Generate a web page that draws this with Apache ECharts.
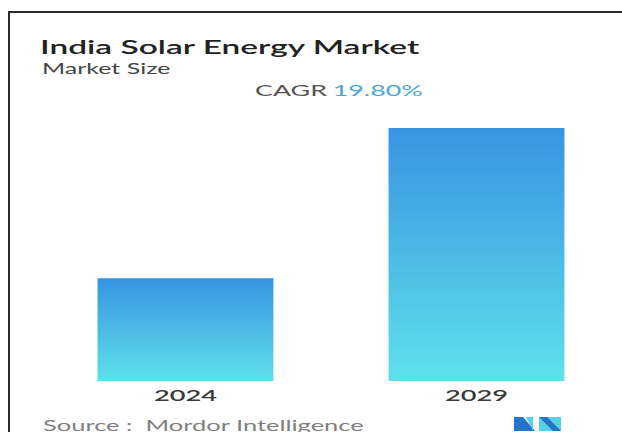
<!DOCTYPE html>
<html>
<head>
<meta charset="utf-8">
<script src="https://cdn.jsdelivr.net/npm/echarts@6/dist/echarts.min.js"></script>
<style>
  html, body { margin: 0; padding: 0; background: #ffffff; overflow: hidden; }
  #wrap { width: 622px; height: 432px; overflow: hidden; position: relative; }
  /* the card is laid out narrow and widened horizontally */
  #chart { width: 366px; height: 432px; transform: scaleX(1.6995); transform-origin: 0 0; }
</style>
</head>
<body>
<div id="wrap"><div id="chart"></div></div>
<script>
// Market size (GW) by year
const categories = ['2024', '2029'];
const marketSize = [97.62, 240.56];
const cagrLabel = 'CAGR';
const cagrValue = '19.80%';
const titleText = 'India Solar Energy Market';
const subtitleText = 'Market Size';
const sourceText = 'Source :  Mordor Intelligence';

const chart = echarts.init(document.getElementById('chart'), null, { renderer: 'svg' });
const SX = 1.6995; // horizontal stretch applied to the card
const px = v => v / SX;

const option = {
  animation: false,
  backgroundColor: '#ffffff',
  grid: { left: 23.5, width: 346, top: 128, bottom: 51 },
  xAxis: {
    type: 'category',
    data: categories,
    axisLine: { show: false },
    axisTick: { show: false },
    axisLabel: {
      fontFamily: 'Lato', fontSize: 16, fontWeight: 600,
      color: '#3a3a3a', margin: 6
    }
  },
  yAxis: {
    type: 'value', min: 0, max: v => v.max, show: false,
    splitLine: { show: false }
  },
  series: [{
    type: 'bar',
    data: marketSize,
    barWidth: 103.5,
    itemStyle: {
      color: new echarts.graphic.LinearGradient(0, 0, 0, 1, [
        { offset: 0, color: '#3794e2' },
        { offset: 1, color: '#5fe0ea' }
      ])
    }
  }],
  graphic: [
    // card frame
    { type: 'rect', shape: { x: px(8), y: 11, width: px(614), height: 2 },
      style: { fill: '#2a2a2a' }, silent: true },
    { type: 'rect', shape: { x: px(8), y: 11, width: px(2), height: 421 },
      style: { fill: '#2a2a2a' }, silent: true },
    // headings
    { type: 'text', x: px(40), y: 46,
      style: { text: titleText, fontFamily: 'Lato', fontWeight: 600, fontSize: 19.7,
               fill: '#222222', verticalAlign: 'middle' } },
    { type: 'text', x: px(42), y: 68.5,
      style: { text: subtitleText, fontFamily: 'Lato', fontSize: 14.7,
               fill: '#444444', verticalAlign: 'middle' } },
    { type: 'text', x: px(255), y: 90,
      style: {
        text: '{a|' + cagrLabel + '} {b|' + cagrValue + '}',
        verticalAlign: 'middle',
        rich: {
          a: { fontFamily: 'Lato', fontSize: 15.8, fill: '#555555', color: '#555555' },
          b: { fontFamily: 'Lato', fontSize: 15.8, fill: '#4aa6e0', color: '#4aa6e0' }
        }
      } },
    // footer
    { type: 'text', x: px(43), y: 424.5,
      style: { text: sourceText, fontFamily: 'Lato', fontSize: 15,
               fill: '#808080', verticalAlign: 'middle' } },
    // logo
    { type: 'polygon', shape: { points: [[px(514), 417], [px(523), 417], [px(535), 431], [px(514), 431]] },
      style: { fill: '#2176cc' } },
    { type: 'polygon', shape: { points: [[px(526), 417], [px(533), 417], [px(533), 431]] },
      style: { fill: '#55d2e6' } },
    { type: 'rect', shape: { x: px(539), y: 417, width: px(22), height: 14 },
      style: { fill: '#55d2e6' } },
    { type: 'polygon', shape: { points: [[px(539), 417], [px(547), 417], [px(561), 431], [px(553), 431]] },
      style: { fill: '#2176cc' } }
  ]
};

chart.setOption(option);
</script>
</body>
</html>
